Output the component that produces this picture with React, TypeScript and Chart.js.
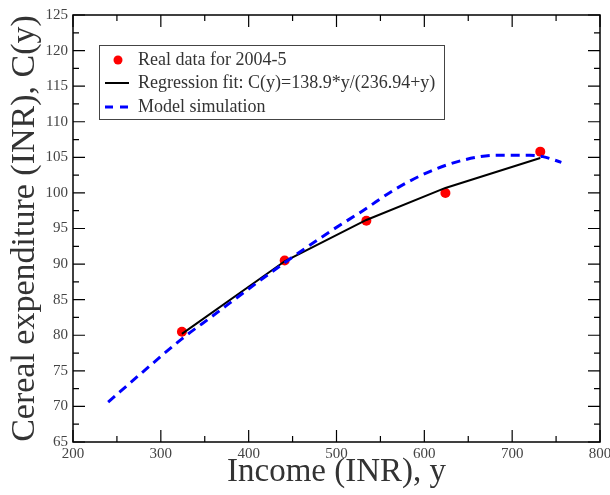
import React, { useEffect, useRef } from "react";
import { Chart, registerables } from "chart.js";

Chart.register(...registerables);

const realIncome = [324, 441, 534, 624, 732];
const realValues = [80.5, 90.5, 96.1, 100.0, 105.8];

const fitIncome = [324, 441, 534, 624, 732];
const fitValues = [80.2, 90.4, 96.2, 100.7, 104.9];

const modelIncome = [240, 280, 324, 360, 375, 413, 441, 493, 530, 568, 606, 644, 682, 720, 735, 756];
const modelValues = [70.6, 74.9, 79.5, 82.8, 84.2, 87.7, 90.2, 94.6, 97.5, 100.6, 103.0, 104.6, 105.3, 105.3, 105.1, 104.3];

const legendLabels = [
  "Real data for 2004-5",
  "Regression fit: C(y)=138.9*y/(236.94+y)",
  "Model simulation",
];

const xTitle = "Income (INR), y";
const yTitle = "Cereal expenditure (INR), C(y)";

const SERIF = "'Liberation Serif', 'Times New Roman', serif";

const framePlugin = {
  id: "frameTicks",
  afterDraw(chart: any) {
    const { ctx, chartArea } = chart;
    const xs = chart.scales.x;
    const ys = chart.scales.y;
    const { left, right, top, bottom } = chartArea;
    ctx.save();
    ctx.strokeStyle = "#000";
    ctx.lineWidth = 1.5;
    ctx.strokeRect(left, top, right - left, bottom - top);
    ctx.lineWidth = 1.2;
    for (let v = 200; v <= 800; v += 50) {
      const px = xs.getPixelForValue(v);
      const len = v % 100 === 0 ? 12 : 6;
      ctx.beginPath();
      ctx.moveTo(px, bottom);
      ctx.lineTo(px, bottom - len);
      ctx.moveTo(px, top);
      ctx.lineTo(px, top + len);
      ctx.stroke();
    }
    for (let v = 65; v <= 125; v += 2.5) {
      const py = ys.getPixelForValue(v);
      const len = v % 5 === 0 ? 12 : 6;
      ctx.beginPath();
      ctx.moveTo(left, py);
      ctx.lineTo(left + len, py);
      ctx.moveTo(right, py);
      ctx.lineTo(right - len, py);
      ctx.stroke();
    }
    // legend
    const bx = 99, by = 45, bw = 345, bh = 74;
    ctx.fillStyle = "#fff";
    ctx.fillRect(bx, by, bw, bh);
    ctx.strokeStyle = "#444";
    ctx.lineWidth = 1;
    ctx.strokeRect(bx + 0.5, by + 0.5, bw, bh);
    const rows = [60, 83, 107];
    ctx.fillStyle = "#ff0000";
    ctx.beginPath();
    ctx.arc(118, rows[0], 4.5, 0, Math.PI * 2);
    ctx.fill();
    ctx.strokeStyle = "#000";
    ctx.lineWidth = 2;
    ctx.beginPath();
    ctx.moveTo(105, rows[1]);
    ctx.lineTo(129, rows[1]);
    ctx.stroke();
    ctx.strokeStyle = "#0000ff";
    ctx.lineWidth = 3;
    ctx.setLineDash([8, 7]);
    ctx.beginPath();
    ctx.moveTo(105, rows[2]);
    ctx.lineTo(129, rows[2]);
    ctx.stroke();
    ctx.setLineDash([]);
    ctx.fillStyle = "#333";
    ctx.font = `18px ${SERIF}`;
    ctx.textBaseline = "middle";
    ctx.textAlign = "left";
    legendLabels.forEach((t, i) => ctx.fillText(t, 138, rows[i]));
    ctx.restore();
  },
};

export default function App() {
  const ref = useRef<HTMLCanvasElement | null>(null);
  useEffect(() => {
    if (!ref.current) return;
    const chart = new Chart(ref.current, {
      type: "line",
      data: {
        datasets: [
          {
            label: legendLabels[2],
            data: modelIncome.map((x, i) => ({ x, y: modelValues[i] })),
            borderColor: "#0000ff",
            borderWidth: 3,
            borderDash: [9, 6],
            pointRadius: 0,
            tension: 0.4,
            cubicInterpolationMode: "monotone",
            fill: false,
          },
          {
            label: legendLabels[1],
            data: fitIncome.map((x, i) => ({ x, y: fitValues[i] })),
            borderColor: "#000",
            borderWidth: 2,
            pointRadius: 0,
            tension: 0,
            fill: false,
          },
          {
            label: legendLabels[0],
            data: realIncome.map((x, i) => ({ x, y: realValues[i] })),
            showLine: false,
            pointRadius: 5,
            pointBackgroundColor: "#ff0000",
            pointBorderColor: "#ff0000",
            pointBorderWidth: 0,
          },
        ],
      },
      options: {
        animation: false,
        responsive: false,
        layout: { padding: { top: 15, right: 10, left: 0, bottom: 0 } },
        plugins: { legend: { display: false }, tooltip: { enabled: false } },
        scales: {
          x: {
            type: "linear",
            min: 200,
            max: 800,
            grid: { display: false, drawTicks: false },
            border: { display: false },
            ticks: {
              stepSize: 100,
              padding: 3,
              color: "#444",
              font: { family: SERIF, size: 15 },
              maxRotation: 0,
            },
            title: {
              display: true,
              text: xTitle,
              color: "#333",
              font: { family: SERIF, size: 33, lineHeight: 1 },
              padding: { top: 0, bottom: 6 },
            },
            afterFit: (s: any) => {
              s.height = 53;
              s.paddingLeft = 0;
              s.paddingRight = 0;
            },
          },
          y: {
            type: "linear",
            min: 65,
            max: 125,
            grid: { display: false, drawTicks: false },
            border: { display: false },
            ticks: {
              stepSize: 5,
              padding: 5,
              color: "#444",
              font: { family: SERIF, size: 15 },
            },
            title: {
              display: true,
              text: yTitle,
              color: "#333",
              font: { family: SERIF, size: 34, lineHeight: 1 },
              padding: { top: 8, bottom: 0 },
            },
            afterFit: (s: any) => {
              s.width = 73;
              s.paddingTop = 0;
              s.paddingBottom = 0;
            },
          },
        },
      },
      plugins: [framePlugin],
    } as any);
    return () => chart.destroy();
  }, []);
  return (
    <div style={{ position: "absolute", left: 0, top: 0, width: 610, height: 495 }}>
      <canvas ref={ref} width={610} height={495} />
    </div>
  );
}
